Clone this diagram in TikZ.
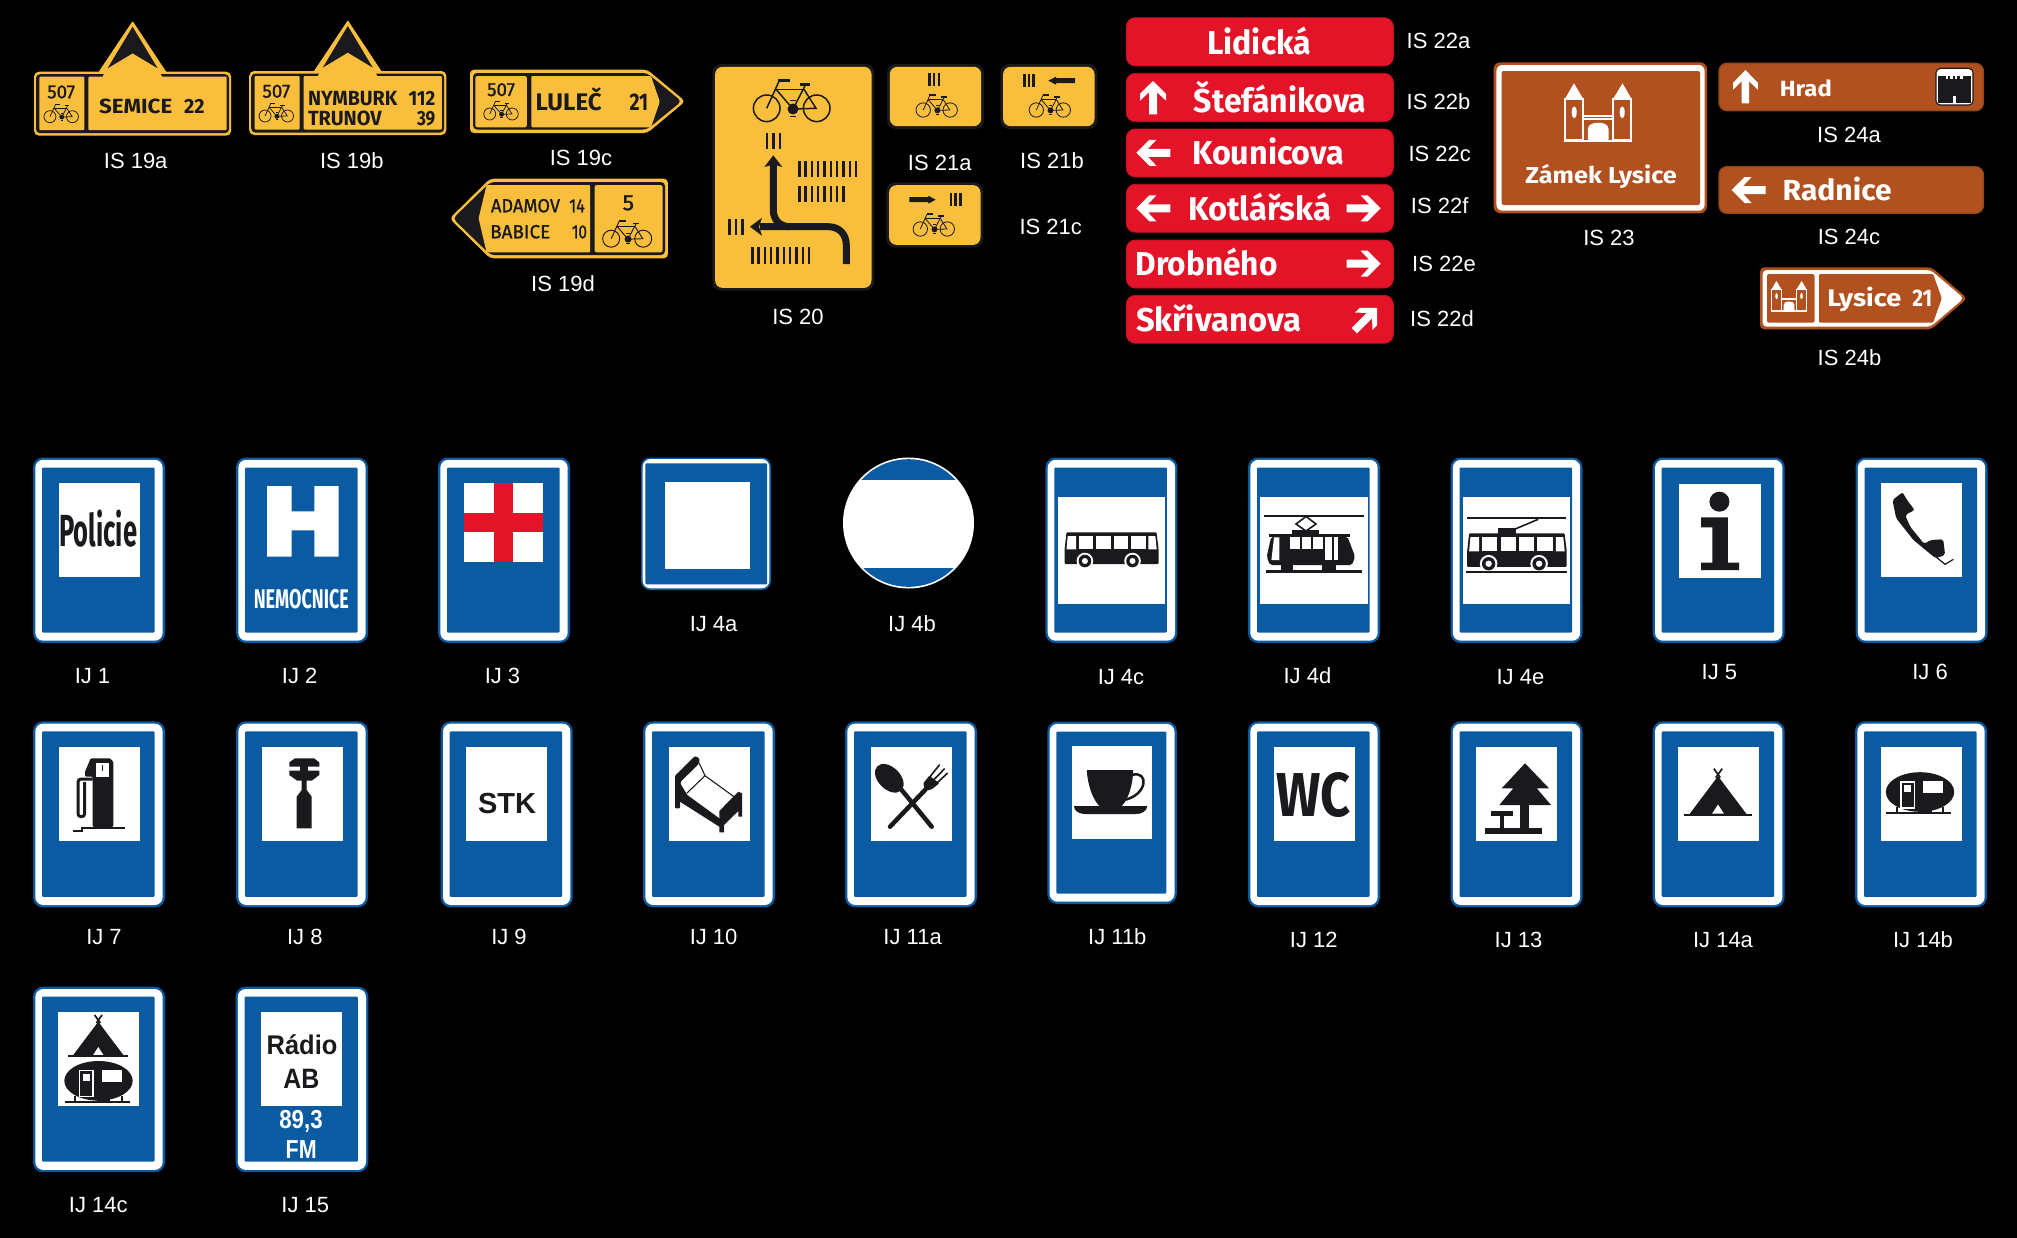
\documentclass[tikz,border=0pt]{standalone}
\usepackage{fontspec}
\usepackage{graphicx}
\setmainfont{Liberation Sans}
\newfontfamily\din{Fira Sans}
\newfontfamily\dinm[FakeBold=1.2]{Fira Sans}
\definecolor{yc}{HTML}{F9BE3B}
\definecolor{ink}{HTML}{1A1A1E}
\definecolor{ijblue}{HTML}{0B5BA3}
\definecolor{rsign}{HTML}{E31428}
\definecolor{rdark}{HTML}{B8121F}
\definecolor{brn}{HTML}{B0511F}
\definecolor{brnd}{HTML}{8F4A1C}
\tikzset{
  lbl/.style={text=white,anchor=base,inner sep=0pt,font=\fontsize{22}{22}\selectfont},
  sgt/.style={anchor=base west,inner sep=0pt,outer sep=0pt}
}
% name, x, baseline y, colour, font, size, width, text
\newcommand\sgn[8]{\node[sgt,text=#4] (#1) at (#2,#3) {#5\fontsize{#6}{#6}\selectfont\resizebox{#7pt}{\height}{#8}};}
\newcommand\lab[4]{\node[lbl] (#1) at (#2,{#3+8.2}) {#4};}
\newcommand\bike[3]{\begin{scope}[shift={(#1,#2)},scale=#3,color=ink,line width={max(0.75,#3*1.5)}]
 \draw (-25,0) circle (13.3); \draw (25,0) circle (13.3);
 \draw (-25,0)--(-12.7,-27);
 \draw (-15.7,-19)--(12.3,-19);
 \draw (-15.7,-19)--(1.3,.7)--(13.7,-23.3);
 \draw (1.3,.7)--(24.3,0)--(12.3,-19);
 \draw[line width={max(1.1,#3*2.4)}] (-13.5,-28)--(-2,-28);
 \draw[line width={max(1.1,#3*2.4)}] (8.3,-24)--(18.3,-24);
 \fill (1.3,.7) circle (5.5);
 \fill (-1.5,-8.6) rectangle (4,-7.2);
 \fill (-1.5,8.6) rectangle (4,7.2);
\end{scope}}
\newcommand\bars[5]{\foreach \bi in {1,...,#3}{\fill[ink] ({#1+(\bi-1)*#2-1.2},#4) rectangle ({#1+(\bi-1)*#2+1.2},#5);}}
\newcommand\wa[5]{\fill[white,shift={(#1,#2)},rotate=#3,xscale=#4,yscale=#5] (17,0)--(4,13)--(-3,13)--(5.5,4)--(-17,4)--(-17,-4)--(5.5,-4)--(-3,-13)--(4,-13)--cycle;}
\newcommand\castle[3]{\begin{scope}[shift={(#1,#2)},scale=#3,color=white,line width={#3*1.8}]
 \fill (-24.3,0)--(-14.7,16)--(-33.5,16)--cycle;
 \fill (24.3,0)--(14.7,16)--(33.5,16)--cycle;
 \draw (-33,16) rectangle (-15,57);
 \draw (33,16) rectangle (15,57);
 \fill (-24,29) ellipse [x radius=2.5,y radius=6];
 \fill (24,29) ellipse [x radius=2.5,y radius=6];
 \draw (-15,32.7)--(15,32.7);
 \draw (-15,36)--(15,36);
 \fill (-10.4,57)--(-10.4,46) .. controls (-10.4,41) and (-5,39.4) .. (0,39.4) .. controls (5,39.4) and (10.4,41) .. (10.4,46)--(10.4,57)--cycle;
 \draw[line width={#3*2.4}] (-34,57.5)--(34,57.5);
\end{scope}}
\newcommand\ijsign[4]{%
 \fill[ijblue,rounded corners=10pt] (#1,#2) rectangle ({#1+#3},{#2+#4});
 \fill[white,rounded corners=8pt] ({#1+2.3},{#2+2.3}) rectangle ({#1+#3-2.3},{#2+#4-2.3});
 \fill[ijblue,rounded corners=1pt] ({#1+9},{#2+10}) rectangle ({#1+#3-10.5},{#2+#4-10.5});}
\newcommand\ijpanel[2]{\fill[white] ({#1+25.6},{#2+25.5}) rectangle ({#1+106.5},{#2+119.5});}
\newcommand\isnineteen[2]{\begin{scope}[shift={(#1,#2)}]
 \fill[yc,rounded corners=5pt] (34,71.7) rectangle (231.2,135.7);
 \fill[yc,rounded corners=1pt] (98,73)--(132.6,21)--(167,73)--cycle;
 \fill[ink,rounded corners=4pt] (36,74.2) rectangle (229,133.2);
 \fill[yc,rounded corners=1pt] (39.3,76.7) rectangle (84.3,130.2);
 \fill[yc,rounded corners=1pt] (88.3,76.7) rectangle (226.7,130.2);
 \fill[yc] (102.5,76.8)--(105,72)--(160,72)--(162,76.8)--cycle;
 \fill[ink] (132.6,26.7)--(157.6,68.3)--(132.6,53.3)--(107.6,68.3)--cycle;
\end{scope}}
\newcommand\yplate[4]{%
 \fill[ink,rounded corners=9pt] (#1,#2) rectangle (#3,#4);
 \fill[yc,rounded corners=7.5pt] ({#1+2.8},{#2+2.8}) rectangle ({#3-2.8},{#4-2.8});}
\newcommand\busicon[3]{\begin{scope}[shift={(#1,#2)},scale=#3]
 \fill[ink,rounded corners=1pt] (2,0)--(92,0)--(94,16)--(94,31.7)--(0,31.7)--(0,18)--cycle;
 \fill[white] (3.2,3.7)--(11.5,3.7)--(11.5,17)--(2,17)--cycle;
 \fill[white] (14,3.7) rectangle (28.5,17);
 \fill[white] (31.8,3.7) rectangle (46.5,17);
 \fill[white] (49,3.7) rectangle (63.5,17);
 \fill[white] (66.1,3.7) rectangle (81.4,17);
 \fill[white] (83.9,3.7)--(90.8,3.7)--(92.2,17)--(83.9,17)--cycle;
 \foreach \wx in {20.4,68}{
  \fill[white] (\wx,28.7) circle (8.3);
  \fill[ink] (\wx,28.7) circle (6.3);
  \fill[white] (\wx,28.7) circle (3);
 }
\end{scope}}
\newcommand\tentshape[3]{\begin{scope}[shift={(#1,#2)},scale=#3]
 \fill[ink] (0,-34.3)--(25.8,0)--(-25.8,0)--cycle;
 \fill[white] (0,-9)--(5.3,-.8)--(-5.3,-.8)--cycle;
 \draw[ink,line width=1.7pt] (-3.7,-41)--(2,-33) (3.7,-41)--(-2,-33);
 \draw[ink,line width=1.8pt] (-30,.3)--(30,.3);
\end{scope}}
\newcommand\caravan[3]{\begin{scope}[shift={(#1,#2)},scale=#3]
 \fill[ink] (0,0) ellipse [x radius=34.2,y radius=19.8];
 \fill[white] (-19.8,-11) rectangle (-4.8,16.5);
 \fill[ink] (-18.2,-9.4) rectangle (-6.4,15);
 \fill[white] (-15.8,-7) rectangle (-8.6,0);
 \fill[white] (3.4,-11) rectangle (23.3,.7);
 \fill[ink] (-24.4,15) rectangle (-22.4,21);
 \fill[ink] (22.4,15) rectangle (24.4,21);
 \fill[ink] (-1.5,14) rectangle (11.7,21);
 \draw[ink,line width=1.6pt] (-34,21.2)--(31,21.2);
\end{scope}}
\begin{document}
\begin{tikzpicture}[x=1pt,y=-1pt]
\useasboundingbox (0,0) rectangle (2017,1237);
\fill[black] (-5,-5) rectangle (2022,1242);
%%%% IS 19a, 19b
\isnineteen{0}{0}
\isnineteen{215.2}{-.7}
\sgn{a507}{47.3}{98.3}{ink}{\dinm}{19}{27.7}{507}
\bike{61.2}{116.7}{.45}
\sgn{semice}{99}{113.3}{ink}{\din\bfseries}{20.5}{73.3}{SEMICE}
\sgn{asemd}{184}{113.3}{ink}{\din\bfseries}{20.5}{20.5}{22}
\sgn{b507}{262.5}{97.6}{ink}{\dinm}{19}{27.7}{507}
\bike{276.3}{116}{.45}
\sgn{nymburk}{308}{105.8}{ink}{\din\bfseries}{20.5}{89.3}{NYMBURK}
\sgn{nymd}{408.5}{105.8}{ink}{\din\bfseries}{20.5}{26.8}{112}
\sgn{trunov}{308}{125.2}{ink}{\din\bfseries}{20.5}{73.7}{TRUNOV}
\sgn{trud}{417}{125.2}{ink}{\din\bfseries}{20.5}{18.3}{39}
%%%% IS 19c
\fill[yc,rounded corners=4pt] (470,69.7)--(647.3,69.7)--(685.3,101.3)--(647.3,133)--(470,133)--cycle;
\fill[ink,rounded corners=4pt] (473,73)--(647,73)--(681.5,101.3)--(647,129.5)--(473,129.5)--cycle;
\fill[yc,rounded corners=2pt] (475.4,76) rectangle (526.8,127.3);
\fill[yc,rounded corners=1pt] (531.3,76)--(651,76)--(659.8,101.7)--(651,127.3)--(531.3,127.3)--cycle;
\sgn{c507}{487.2}{96}{ink}{\dinm}{19}{27.7}{507}
\bike{501}{114}{.45}
\sgn{lulec}{535.7}{110}{ink}{\din\bfseries}{24}{66}{LULEČ}
\sgn{lulecd}{629.5}{110}{ink}{\din\bfseries}{24}{18.7}{21}
%%%% IS 19d
\fill[yc,rounded corners=4pt] (667.9,178.7)--(490,178.7)--(449.6,218.5)--(490,258.3)--(667.9,258.3)--cycle;
\fill[ink,rounded corners=4pt] (665,182)--(490.5,182)--(453,218.5)--(490.5,255)--(665,255)--cycle;
\fill[yc,rounded corners=1pt] (590.2,185)--(486.6,185)--(478.6,218.3)--(486.6,252.3)--(590.2,252.3)--cycle;
\fill[yc,rounded corners=2pt] (594.6,185) rectangle (662.5,252.3);
\sgn{adamov}{491}{212.3}{ink}{\dinm}{19}{69}{ADAMOV}
\sgn{adamovd}{569.2}{212.3}{ink}{\dinm}{19}{15.6}{14}
\sgn{babice}{490.2}{238.3}{ink}{\dinm}{19}{60}{BABICE}
\sgn{babiced}{571.9}{238.3}{ink}{\dinm}{19}{15}{10}
\sgn{dfive}{622.6}{210.2}{ink}{\dinm}{22}{11.5}{5}
\bike{627.2}{238.7}{.64}
%%%% IS 20
\yplate{712.3}{64}{874.3}{290.7}
\bike{791.7}{108.3}{1}
\bars{766.7}{6.65}{3}{132.7}{149}
\bars{799.3}{6.3}{10}{160.7}{177.3}
\bars{799.3}{6.3}{8}{185.7}{201.7}
\bars{752.3}{6.3}{10}{247.3}{264}
\bars{729.5}{6.4}{3}{218.7}{235}
\draw[ink,line width=7pt] (846.3,264)--(846.3,245) .. controls (846.3,234) and (839,226.7) .. (828.3,226.7)--(760,226.7);
\fill[ink] (750,226.7)--(762,217.7)--(759,226.7)--(762,235.7)--cycle;
\draw[ink,line width=7pt] (790,226.7) .. controls (780,226.7) and (773.3,220) .. (773.3,210)--(773.3,164);
\fill[ink] (773.3,155.3)--(782.3,167)--(773.3,164.5)--(764.3,167)--cycle;
%%%% IS 21a,b,c
\yplate{887}{64}{984}{129}
\bars{929.3}{4.7}{3}{73.3}{86}
\bike{936.7}{110}{.54}
\yplate{1000.3}{64}{1097.3}{129}
\bars{1024.3}{4.5}{3}{74.3}{86.7}
\fill[ink] (1048.3,80.7)--(1056,76.7)--(1056,78.2)--(1075,78.2)--(1075,83.2)--(1056,83.2)--(1056,84.7)--cycle;
\bike{1049.8}{110}{.54}
\yplate{886.3}{182.3}{983.3}{247.7}
\bars{951}{4.65}{3}{193.3}{205.7}
\fill[ink] (935.7,199.7)--(928.3,195.7)--(928.3,197.2)--(909.3,197.2)--(909.3,202.2)--(928.3,202.2)--(928.3,203.7)--cycle;
\bike{933.8}{229}{.54}
%%%% IS 22 red signs
\foreach \ya/\yb in {17.7/66,73.3/121.7,129/177,184.3/232.3,240/288,295.3/343.3}{
 \fill[rsign,draw=rdark,line width=.8pt,rounded corners=9pt] (1126.2,\ya) rectangle (1393.4,\yb);
}
\sgn{lidicka}{1207.2}{54}{white}{\din\bfseries}{33}{104}{Lidická}
\sgn{stefanikova}{1193.9}{112.7}{white}{\din\bfseries}{33}{172.4}{Štefánikova}
\sgn{kounicova}{1192.1}{164.3}{white}{\din\bfseries}{33}{152}{Kounicova}
\sgn{kotlarska}{1188.1}{220.7}{white}{\din\bfseries}{33}{143}{Kotlářská}
\sgn{drobneho}{1135.5}{275.7}{white}{\din\bfseries}{33}{142}{Drobného}
\sgn{skrivanova}{1136}{331}{white}{\din\bfseries}{33}{165}{Skřivanova}
\wa{1153}{97.7}{90}{.98}{1}
\wa{1153.4}{152.8}{180}{1}{1}
\wa{1153.4}{208.3}{180}{1}{1}
\wa{1363.6}{208.3}{0}{1}{1}
\wa{1363.6}{263.7}{0}{1}{1}
\wa{1365.7}{319.3}{45}{.95}{.95}
%%%% IS 23
\fill[brn,rounded corners=7pt] (1493.5,62.3) rectangle (1707,213.3);
\fill[white,rounded corners=6pt] (1496.4,65) rectangle (1704.6,210.7);
\fill[brn,rounded corners=2pt] (1501.6,71) rectangle (1700,205);
\castle{1598.2}{83.3}{1}
\sgn{zamek}{1525.3}{183.3}{white}{\din\bfseries}{23}{151.6}{Zámek Lysice}
%%%% IS 24a, 24c
\fill[brn,draw=brnd,line width=1.4pt,rounded corners=8pt] (1719,63.3) rectangle (1983.4,110.7);
\wa{1745.4}{86.7}{90}{.98}{.95}
\sgn{hrad}{1779.8}{96}{white}{\din\bfseries}{22}{52}{Hrad}
\fill[ink,rounded corners=5pt] (1935.4,67.7) rectangle (1973.6,105.7);
\fill[white,rounded corners=4pt] (1936.6,69) rectangle (1972.4,104.4);
\fill[ink] (1938.2,75.5) rectangle (1970.8,103);
\fill[white] (1946,75.5) rectangle (1963,79);
\foreach \cx in {1948,1952.6,1957.2}{\fill[ink] (\cx,75.5) rectangle ({\cx+2.4},79);}
\fill[white] (1952.8,96) rectangle (1956.2,103);
\fill[brn,draw=brnd,line width=1.4pt,rounded corners=8pt] (1719,166.7) rectangle (1983.4,213.3);
\wa{1748.6}{190}{180}{1}{1}
\sgn{radnice}{1782.7}{200}{white}{\din\bfseries}{29}{109}{Radnice}
%%%% IS 24b
\fill[brn,rounded corners=4pt] (1760.2,267.3)--(1931.4,267.3)--(1967.2,298.3)--(1931.4,329.3)--(1760.2,329.3)--cycle;
\fill[white,rounded corners=4pt] (1762.7,270)--(1930.5,270)--(1963.8,298.3)--(1930.5,326.7)--(1762.7,326.7)--cycle;
\fill[brn,rounded corners=2pt] (1767,274) rectangle (1814.5,322.7);
\fill[brn,rounded corners=1pt] (1819.1,274)--(1933.1,274)--(1941.8,298.3)--(1933.1,322.7)--(1819.1,322.7)--cycle;
\castle{1789}{281}{.52}
\sgn{lysice}{1827.3}{306.7}{white}{\din\bfseries}{24}{74}{Lysice}
\sgn{lysiced}{1912.3}{306.7}{white}{\din\bfseries}{24}{20}{21}
%%%% IJ row 1
\ijsign{33}{457.5}{132}{185.5}
\ijpanel{33}{457.5}
\sgn{policie}{59.3}{546}{ink}{\din\bfseries}{45}{77.8}{Policie}
\ijsign{236}{457.5}{132}{185.5}
\fill[white] (267.2,486)--(291.5,486)--(291.5,511.3)--(314.4,511.3)--(314.4,486)--(338.7,486)--(338.7,556.7)--(314.4,556.7)--(314.4,530.3)--(291.5,530.3)--(291.5,556.7)--(267.2,556.7)--cycle;
\sgn{nemocnice}{253.8}{608.3}{white}{\din\bfseries}{27}{95}{NEMOCNICE}
\ijsign{438}{457.5}{132}{185.5}
\fill[white] (464.3,482.7) rectangle (543.4,561.7);
\fill[rsign] (494.3,482.7) rectangle (513.4,561.7);
\fill[rsign] (464.3,512.7) rectangle (543.4,532);
% IJ 4a
\fill[ijblue,rounded corners=9pt] (641,457.5) rectangle (771,590);
\fill[white,rounded corners=8pt] (642.6,459) rectangle (769.4,588.4);
\fill[ijblue,rounded corners=1pt] (645.4,463.3) rectangle (767.2,584.3);
\fill[white] (665.2,482) rectangle (750,568.7);
% IJ 4b
\fill[white] (908.5,523) circle (65.5);
\begin{scope}
 \clip (908.5,523) circle (63.8);
 \fill[ijblue] (840,450) rectangle (980,479.7);
 \fill[ijblue] (840,568.3) rectangle (980,600);
\end{scope}
% IJ 4c, d, e
\foreach \lx in {1045.4,1248,1450.5}{
 \ijsign{\lx}{457.5}{132}{185.5}
 \fill[white] ({\lx+12.1},496.7) rectangle ({\lx+119.6},604);
}
\busicon{1064.5}{532.3}{1}
% tram
\draw[ink,line width=2.5pt] (1263.5,516)--(1364,516);
\draw[ink,line width=1.6pt] (1306,516.5)--(1316,524)--(1306,531)--(1296,524)--cycle;
\fill[ink] (1292,530.3) rectangle (1319,535);
\fill[ink] (1269.3,534.3) rectangle (1350,536.9);
\fill[ink,rounded corners=2pt] (1271.2,536.7)--(1347.5,536.7)--(1355.1,556.7)--(1352,565)--(1269.9,565)--(1266.7,556.7)--cycle;
\fill[white] (1274,537.3)--(1279.4,537.3)--(1279.4,560)--(1271.4,560)--cycle;
\fill[white] (1290.2,537.3) rectangle (1299.8,549.3);
\fill[white] (1301.7,537.3) rectangle (1311.2,549.3);
\fill[white] (1312.5,537.3) rectangle (1323.3,549.3);
\fill[white] (1325.2,537.3) rectangle (1331.6,560);
\fill[white] (1333.5,537.3) rectangle (1337.9,560);
\fill[ink] (1280.7,564) rectangle (1293.4,570);
\fill[ink] (1322,564) rectangle (1336,570);
\fill[ink] (1266,569.6) rectangle (1361.5,572.6);
% trolleybus
\draw[ink,line width=2.4pt] (1467,517.7)--(1565.5,517.7);
\draw[ink,line width=1.6pt] (1512.8,530)--(1538.2,519.3);
\fill[ink] (1498,528) rectangle (1516,533.5);
\busicon{1467}{533.3}{1.06}
\fill[ink] (1466,570.6) rectangle (1567,572.6);
% IJ 5
\ijsign{1652.7}{457.5}{132}{185.5}
\fill[white] (1679.4,484) rectangle (1760.8,577.7);
\fill[ink] (1719.4,501.7) ellipse [x radius=10,y radius=10];
\fill[ink] (1701,517.3)--(1727.8,517.3)--(1727.8,562.7)--(1739.2,562.7)--(1739.2,570)--(1701,570)--(1701,562.7)--(1712.4,562.7)--(1712.4,527.3)--(1701,527.3)--cycle;
% IJ 6
\ijsign{1855.5}{457.5}{132}{185.5}
\fill[white] (1881,483.3) rectangle (1962.3,577.3);
\fill[ink,rounded corners=2pt] (1902.6,492.3)--(1892.4,500)--(1896.2,518.3)--(1913.4,540)--(1935.6,558.3)--(1945.1,555)--(1943.2,539.3)--(1930.5,540)--(1924.2,544)--(1910.2,526.7)--(1905.1,515)--(1914.6,510)--(1907,500)--cycle;
\draw[ink,line width=1.2pt] (1935.6,556.7)--(1945.1,564.3)--(1953.4,559.3);
%%%% IJ row 2
\foreach \lx in {33,236,440.7,643,845,1248,1450.5,1652.7,1855}{
 \ijsign{\lx}{721.3}{132}{186}
 \ijpanel{\lx}{721.3}
}
% pump
\fill[ink,rounded corners=1pt] (90.7,758.3)--(110,758.3)--(113.3,761.7)--(113.3,826.9)--(92.7,826.9)--(92.7,776.7)--(85,776.7)--(85,771.7)--cycle;
\fill[white] (96,763.3) rectangle (109.3,776.7);
\fill[ink] (101.7,765) rectangle (103.3,771);
\draw[ink,line width=3pt,rounded corners=3pt] (92.7,779)--(78,779)--(78,816.7)--(84.7,816.7)--(84.7,782);
\fill[ink] (81,826.7) rectangle (125,829);
\fill[ink] (81,826.7) rectangle (83,831.7);
\fill[ink] (72.7,830) rectangle (83,831.7);
% tool
\fill[ink] (295,758.3)--(314,758.3)--(319.3,762.3)--(319.3,766.7)--(289.3,766.7)--(289.3,762.3)--cycle;
\fill[ink] (300,766) rectangle (308.3,771.5);
\fill[ink] (289.3,770.7)--(319.3,770.7)--(319.3,775)--(311.7,780.7)--(306.7,780.7)--(306.7,790)--(311.7,796.7)--(311.7,828.3)--(296.7,828.3)--(296.7,796.7)--(301.7,790)--(301.7,780.7)--(297.3,780.7)--(289.3,775)--cycle;
% STK
\sgn{stk}{478}{813.3}{ink}{\bfseries}{29}{58}{STK}
% bed
\fill[ink,rounded corners=1pt] (695,756)--(699.3,758.3)--(699.3,763.3)--(680.7,781.7)--(680,808.3)--(675,808.3)--(675,775.7)--cycle;
\draw[ink,line width=1.1pt] (699.3,763.3)--(705,775.7)--(734,796.7);
\draw[ink,line width=1.1pt] (705,775.7)--(686.7,793.3);
\fill[ink] (679.3,781.7)--(687.3,795)--(719.3,818.3)--(724,825)--(724,832.3)--(719.3,832.3)--(719.3,826.7)--(680,801.7)--(676.7,788.3)--cycle;
\fill[ink] (719.3,811)--(738.3,791.7)--(742,793.3)--(742,816.7)--(738.3,816.7)--(738.3,811)--(724,825)--(719.3,820)--cycle;
% spoon and fork
\draw[ink,line width=4.5pt,line cap=round] (901.7,790)--(931.7,826.7);
\fill[ink,rotate around={-45:(889.3,778.3)}] (889.3,778.3) ellipse [x radius=17,y radius=11];
\draw[ink,line width=4.5pt,line cap=round] (890,826.7)--(925,790);
\fill[ink,rounded corners=1pt] (923.3,783.3)--(929.3,775.7)--(939.3,783.3)--(931.7,789.3)--(925,791)--cycle;
\draw[ink,line width=1.6pt,line cap=round] (929,778)--(939.3,765) (933.5,780)--(944.3,769) (937,783)--(947.3,773.3);
% IJ 11b
\ijsign{1047.3}{721.5}{129.5}{182.5}
\fill[white] (1072.1,746) rectangle (1152.3,839);
\fill[ink] (1086.8,770)--(1133.2,770) .. controls (1133,785) and (1128,800) .. (1121.7,806)--(1099.5,806) .. controls (1093,800) and (1087.5,785) .. (1086.8,770)--cycle;
\draw[ink,line width=2.5pt] (1132,775) .. controls (1149,770) and (1148,795) .. (1124,800);
\fill[ink] (1074,806)--(1147.2,806) .. controls (1147,811) and (1142,814) .. (1136,814)--(1085,814) .. controls (1079,814) and (1074,811) .. (1074,806)--cycle;
% WC
\sgn{wc}{1276.2}{816}{ink}{\din\bfseries}{62}{74.4}{WC}
% tree
\fill[ink] (1525,763.3)--(1549,788.3)--(1536.7,788.3)--(1551,805)--(1499.3,805)--(1513.3,788.3)--(1501.7,788.3)--cycle;
\fill[ink] (1520,804) rectangle (1529.3,830);
\fill[ink] (1491,810.7) rectangle (1513.3,815.7);
\fill[ink] (1500,815) rectangle (1504,830);
\fill[ink] (1485,828.3) rectangle (1541.7,834);
% tent, caravans
\tentshape{1718}{814.6}{1.12}
\caravan{1920}{792}{1}
%%%% IJ row 3
\ijsign{33}{986.7}{132}{185.5}
\fill[white] (58.3,1012) rectangle (139,1106);
\tentshape{98.3}{1056}{1}
\caravan{98.5}{1080.8}{1}
\ijsign{235.5}{986.7}{132.8}{185.5}
\fill[white] (261.3,1012) rectangle (342.3,1106);
\sgn{radio}{266.7}{1054}{ink}{\bfseries}{27}{70.7}{Rádio}
\sgn{ab}{283.3}{1088.3}{ink}{\bfseries}{28}{36}{AB}
\sgn{freq}{279.3}{1128.3}{white}{\bfseries}{26}{43.4}{89,3}
\sgn{fm}{285.7}{1158.3}{white}{\bfseries}{26}{31}{FM}
%%%% labels
\lab{l19a}{135.7}{160.7}{IS 19a}
\lab{l19b}{351.8}{160}{IS 19b}
\lab{l19c}{581}{157.7}{IS 19c}
\lab{l19d}{563}{283}{IS 19d}
\lab{l20}{798}{316.7}{IS 20}
\lab{l21a}{939.7}{162.7}{IS 21a}
\lab{l21b}{1052}{160.7}{IS 21b}
\lab{l21c}{1050.7}{226}{IS 21c}
\lab{l22a}{1438.5}{40.7}{IS 22a}
\lab{l22b}{1438.5}{101}{IS 22b}
\lab{l22c}{1439.7}{153}{IS 22c}
\lab{l22f}{1439.7}{205.7}{IS 22f}
\lab{l22e}{1444}{263}{IS 22e}
\lab{l22d}{1442}{318}{IS 22d}
\lab{l23}{1609}{237.7}{IS 23}
\lab{l24a}{1849}{134}{IS 24a}
\lab{l24c}{1849}{236}{IS 24c}
\lab{l24b}{1849.5}{357}{IS 24b}
\lab{j1}{92.5}{675}{IJ 1}
\lab{j2}{299.7}{675.5}{IJ 2}
\lab{j3}{502.5}{675}{IJ 3}
\lab{j4a}{713.6}{623.3}{IJ 4a}
\lab{j4b}{912}{623}{IJ 4b}
\lab{j4c}{1121}{676}{IJ 4c}
\lab{j4d}{1307.4}{675}{IJ 4d}
\lab{j4e}{1520.4}{676.7}{IJ 4e}
\lab{j5}{1719.4}{671}{IJ 5}
\lab{j6}{1930}{671}{IJ 6}
\lab{j7}{104}{936.7}{IJ 7}
\lab{j8}{304.8}{936}{IJ 8}
\lab{j9}{509}{936.7}{IJ 9}
\lab{j10}{713.6}{936.7}{IJ 10}
\lab{j11a}{912.6}{936.7}{IJ 11a}
\lab{j11b}{1117.3}{936.7}{IJ 11b}
\lab{j12}{1313.8}{939.3}{IJ 12}
\lab{j13}{1518.5}{939.3}{IJ 13}
\lab{j14a}{1723}{939}{IJ 14a}
\lab{j14b}{1923}{939}{IJ 14b}
\lab{j14c}{98.3}{1204.3}{IJ 14c}
\lab{j15}{305.3}{1204.3}{IJ 15}
\end{tikzpicture}
\end{document}
